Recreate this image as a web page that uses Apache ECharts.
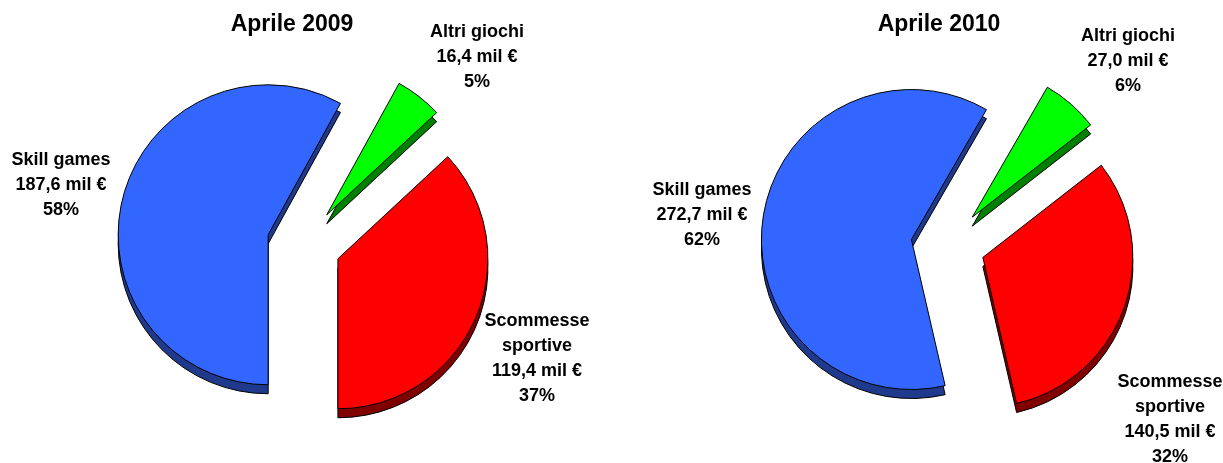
<!DOCTYPE html>
<html>
<head>
<meta charset="utf-8">
<script src="https://cdn.jsdelivr.net/npm/echarts@6/dist/echarts.min.js"></script>
<style>
html,body{margin:0;padding:0;background:#fff;}
#chart{width:1223px;height:463px;}
</style>
</head>
<body>
<div id="chart"></div>
<script>
// ---- data ----
const categories = ['Skill games', 'Altri giochi', 'Scommesse sportive'];
const labelNames = ['Skill games', 'Altri giochi', 'Scommesse\nsportive'];
const titles = ['Aprile 2009', 'Aprile 2010'];
const values2009 = [187.6, 16.4, 119.4];
const values2010 = [272.7, 27.0, 140.5];

// ---- styles / layout ----
const topColors = ['#3366FF', '#00FF00', '#FF0000'];
const sideColors = ['#1F3A8C', '#008000', '#800000'];
const FONT = '"Liberation Sans", Arial, sans-serif';

const pies = [
  { values: values2009, center: [304, 244], startAngle: -90, titleX: 292,
    labelPos: [[61, 185], [477, 57], [537, 359]] },
  { values: values2010, center: [948, 245], startAngle: -77, titleX: 939,
    labelPos: [[702, 215], [1128, 61], [1170, 420]] }
];
const RADIUS = 150;
const OFFSET = 37;
const DEPTH = 9;

function fmt(v) { return v.toFixed(1).replace('.', ','); }

const series = [];
const graphics = [];
pies.forEach(function (p, pi) {
  const makeData = function (colors) {
    return categories.map(function (c, i) {
      return { name: c, value: p.values[i], selected: true,
        itemStyle: { color: colors[i] } };
    });
  };
  const common = {
    type: 'pie', silent: true, animation: false,
    radius: RADIUS, startAngle: p.startAngle, clockwise: true,
    selectedMode: 'multiple', selectedOffset: OFFSET,
    avoidLabelOverlap: false,
    label: { show: false }, labelLine: { show: false },
    itemStyle: { borderColor: '#000', borderWidth: 1 },
    select: { itemStyle: { borderColor: '#000', borderWidth: 1 }, label: { show: false } },
    emphasis: { disabled: true }
  };
  // side (depth) layer
  series.push(Object.assign({}, common, {
    z: 1, center: [p.center[0], p.center[1] + DEPTH], data: makeData(sideColors)
  }));
  // top face
  series.push(Object.assign({}, common, {
    z: 2, center: p.center, data: makeData(topColors)
  }));
  // labels
  const total = p.values.reduce(function (a, b) { return a + b; }, 0);
  p.values.forEach(function (v, i) {
    const pct = Math.round(v / total * 100);
    graphics.push({
      type: 'text', x: p.labelPos[i][0], y: p.labelPos[i][1], z: 10, silent: true,
      style: {
        text: labelNames[i] + '\n' + fmt(v) + ' mil €\n' + pct + '%',
        font: 'bold 18px ' + FONT, lineHeight: 25,
        fill: '#000', align: 'center', verticalAlign: 'middle'
      }
    });
  });
});

const chart = echarts.init(document.getElementById('chart'), null, { renderer: 'canvas' });
chart.setOption({
  backgroundColor: '#fff',
  animation: false,
  title: pies.map(function (p, i) {
    return { text: titles[i], left: p.titleX, top: 13, textAlign: 'center', padding: 0,
      textStyle: { fontFamily: FONT, fontWeight: 'bold', fontSize: 23, color: '#000' } };
  }),
  series: series,
  graphic: graphics
});
</script>
</body>
</html>
